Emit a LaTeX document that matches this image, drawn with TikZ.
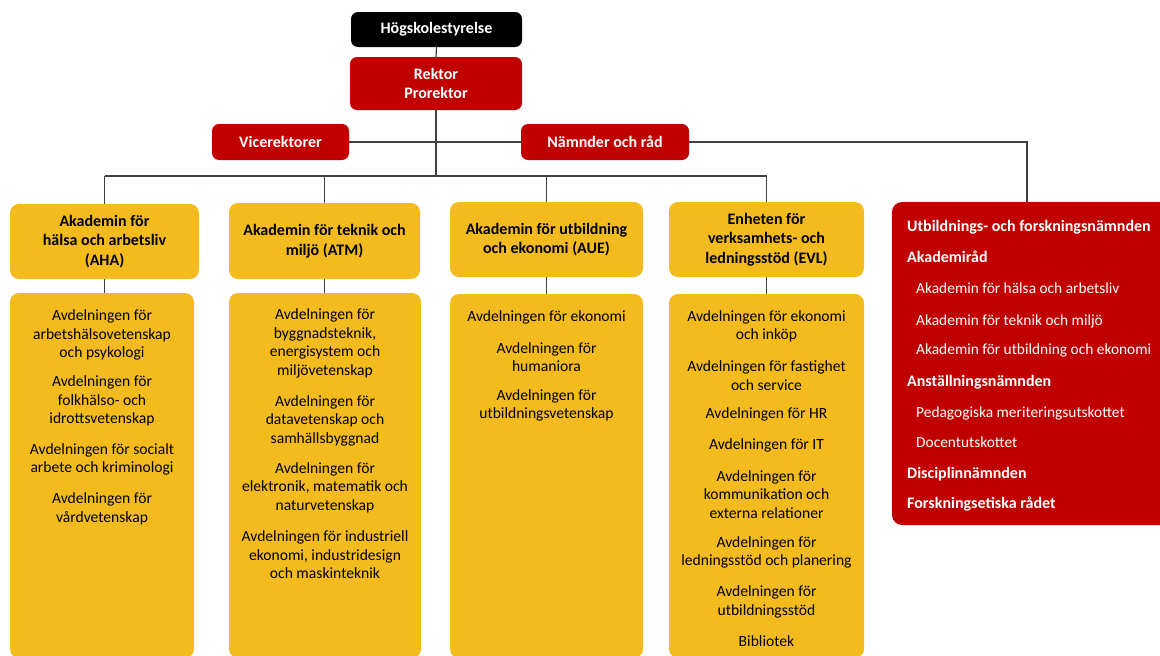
\documentclass[tikz,border=0pt]{standalone}
\usepackage{fontspec}
\setmainfont{Carlito}
\definecolor{ored}{HTML}{C00000}
\definecolor{oyel}{HTML}{F4BB1F}
\definecolor{oline}{HTML}{404040}
\tikzset{
  box/.style={rounded corners=7pt, inner sep=0pt, align=center},
  blackbox/.style={box, fill=black, text=white, font=\fontsize{16}{18.5}\selectfont\bfseries},
  redbox/.style={box, fill=ored, text=white, font=\fontsize{16}{18.5}\selectfont\bfseries},
  hdrbox/.style={box, fill=oyel, text=black, font=\fontsize{16}{19.5}\selectfont\bfseries, rounded corners=9pt},
  bodybox/.style={box, fill=oyel, rounded corners=9pt},
  grp/.style={inner sep=0pt, align=center, text=black, font=\fontsize{15.6}{18.5}\selectfont},
  rtxt/.style={inner sep=0pt, anchor=base west, text=white, font=\fontsize{15.4}{18}\selectfont},
  rbold/.style={rtxt, font=\fontsize{16}{18}\selectfont\bfseries},
  conn/.style={draw=oline, line width=1.2pt}
}
\begin{document}
\begin{tikzpicture}[x=1pt,y=-1pt]
\useasboundingbox (0,0) rectangle (1160,656);
% top
\node[blackbox, minimum width=171pt, minimum height=35pt] (hs) at (436.5,29.5) {Högskolestyrelse};
\node[redbox, minimum width=172pt, minimum height=53pt] (rek) at (436,83.5) {Rektor\\Prorektor};
\node[redbox, minimum width=137pt, minimum height=36pt] (vice) at (280.5,142) {Vicerektorer};
\node[redbox, minimum width=168pt, minimum height=36pt] (nam) at (605,142) {Nämnder och råd};
% headers
\node[hdrbox, minimum width=189pt, minimum height=75pt] (aha) at (104.5,241.5) {Akademin för\\hälsa och arbetsliv\\(AHA)};
\node[hdrbox, minimum width=191pt, minimum height=76pt] (atm) at (324.5,241) {Akademin för teknik och\\miljö (ATM)};
\node[hdrbox, minimum width=193pt, minimum height=75pt] (aue) at (546.5,239.5) {Akademin för utbildning\\och ekonomi (AUE)};
\node[hdrbox, minimum width=195pt, minimum height=75pt] (evl) at (766.5,239.5) {Enheten för\\verksamhets- och\\ledningsstöd (EVL)};
% bodies
\node[bodybox, minimum width=184pt, minimum height=365pt] (ahab) at (102,475.5) {};
\node[bodybox, minimum width=192pt, minimum height=365pt] (atmb) at (325,475.5) {};
\node[bodybox, minimum width=193pt, minimum height=364pt] (aueb) at (546.5,476) {};
\node[bodybox, minimum width=195pt, minimum height=364pt] (evlb) at (766.5,476) {};
% right red box
\node[redbox, rounded corners=10pt, minimum width=283pt, minimum height=323pt] (rb) at (1033.5,363.5) {};
\coordinate (rtop) at (1027,202);
% connectors
\coordinate (bus) at (rek.south |- 0,176);
\draw[conn] (hs.south) -- (rek.north);
\draw[conn] (rek.south) -- (bus);
\draw[conn] (vice.east) -- (nam.west);
\draw[conn] (nam.east) -| (rtop);
\draw[conn] (aha.north |- bus) -- (evl.north |- bus);
\draw[conn] (aha.north |- bus) -- (aha.north);
\draw[conn] (atm.north |- bus) -- (atm.north);
\draw[conn] (aue.north |- bus) -- (aue.north);
\draw[conn] (evl.north |- bus) -- (evl.north);
\draw[conn] (aha.south) -- (aha.south |- ahab.north);
\draw[conn] (atm.south) -- (atm.south |- atmb.north);
\draw[conn] (aue.south) -- (aue.south |- aueb.north);
\draw[conn] (evl.south) -- (evl.south |- evlb.north);
% AHA body text
\node[grp] (aha1) at (102,335) {Avdelningen för\\arbetshälsovetenskap\\och psykologi};
\node[grp] (aha2) at (102,401) {Avdelningen för\\folkhälso- och\\idrottsvetenskap};
\node[grp] (aha3) at (102,459.5) {Avdelningen för socialt\\arbete och kriminologi};
\node[grp] (aha4) at (102,509) {Avdelningen för\\vårdvetenskap};
% ATM body text
\node[grp] (atm1) at (325,343.5) {Avdelningen för\\byggnadsteknik,\\energisystem och\\miljövetenskap};
\node[grp] (atm2) at (325,420.5) {Avdelningen för\\datavetenskap och\\samhällsbyggnad};
\node[grp] (atm3) at (325,487.5) {Avdelningen för\\elektronik, matematik och\\naturvetenskap};
\node[grp] (atm4) at (325,555) {Avdelningen för industriell\\ekonomi, industridesign\\och maskinteknik};
% AUE body text
\node[grp] (aue1) at (546.5,317) {Avdelningen för ekonomi};
\node[grp] (aue2) at (546.5,357) {Avdelningen för\\humaniora};
\node[grp] (aue3) at (546.5,405.5) {Avdelningen för\\utbildningsvetenskap};
% EVL body text
\node[grp] (evl1) at (766.5,326.5) {Avdelningen för ekonomi\\och inköp};
\node[grp] (evl2) at (766.5,375.5) {Avdelningen för fastighet\\och service};
\node[grp] (evl3) at (766.5,414) {Avdelningen för HR};
\node[grp] (evl4) at (766.5,445) {Avdelningen för IT};
\node[grp] (evl5) at (766.5,494.5) {Avdelningen för\\kommunikation och\\externa relationer};
\node[grp] (evl6) at (766.5,552.5) {Avdelningen för\\ledningsstöd och planering};
\node[grp] (evl7) at (766.5,602) {Avdelningen för\\utbildningsstöd};
\node[grp] (evl8) at (766.5,641) {Bibliotek};
% red box text
\node[rbold] (r1) at (907,231) {Utbildnings- och forskningsnämnden};
\node[rbold] (r2) at (907,262) {Akademiråd};
\node[rtxt] (r3) at (916,293) {Akademin för hälsa och arbetsliv};
\node[rtxt] (r4) at (916,325) {Akademin för teknik och miljö};
\node[rtxt] (r5) at (916,354) {Akademin för utbildning och ekonomi};
\node[rbold] (r6) at (907,386) {Anställningsnämnden};
\node[rtxt] (r7) at (916,417) {Pedagogiska meriteringsutskottet};
\node[rtxt] (r8) at (916,447) {Docentutskottet};
\node[rbold] (r9) at (907,478) {Disciplinnämnden};
\node[rbold] (r10) at (907,508) {Forskningsetiska rådet};
\end{tikzpicture}
\end{document}
